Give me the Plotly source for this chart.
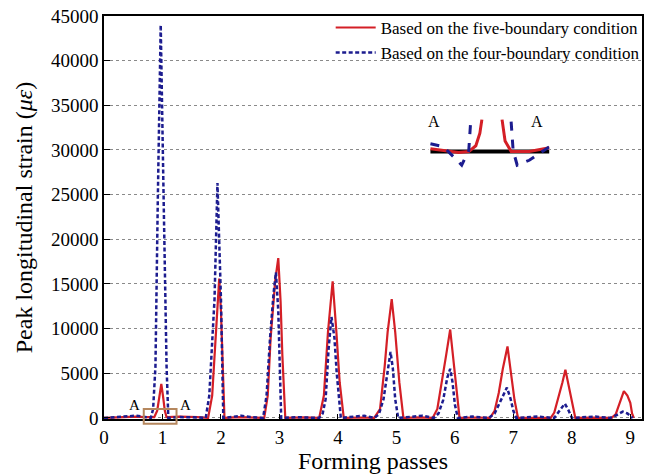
import plotly.graph_objects as go

# ---------------- data ----------------
five_x = [0, 0.3, 0.55, 0.7, 0.86, 0.91, 0.95, 0.98, 1.01, 1.04, 1.07, 1.3, 1.6,
          1.78, 1.85, 1.92, 1.97, 2.0, 2.03, 2.06,
          2.3, 2.6, 2.74, 2.8, 2.85, 2.93, 2.98, 3.02, 3.05, 3.1,
          3.4, 3.68, 3.76, 3.83, 3.91, 3.97, 4.03, 4.1,
          4.4, 4.62, 4.72, 4.8, 4.85, 4.92, 4.98, 5.05, 5.12,
          5.4, 5.62, 5.7, 5.78, 5.85, 5.92, 5.97, 6.02, 6.08,
          6.35, 6.6, 6.68, 6.75, 6.82, 6.9, 6.96, 7.02, 7.08,
          7.35, 7.64, 7.7, 7.77, 7.84, 7.89, 7.95, 8.0, 8.06,
          8.35, 8.68, 8.75, 8.82, 8.89, 8.95, 9.0, 9.03, 9.06]
five_y = [0, 50, 150, 80, 100, 800, 2400, 3800, 2400, 800, 100, 150, 100,
          0, 2500, 9600, 15600, 12000, 6000, 0,
          80, 50, 0, 2500, 9000, 15500, 17900, 13000, 7000, 0,
          60, 0, 2500, 9600, 15300, 10000, 4000, 0,
          50, 0, 1000, 5800, 9600, 13300, 9600, 4000, 0,
          60, 0, 1000, 4000, 7000, 9900, 7000, 4000, 0,
          50, 0, 800, 2800, 5500, 8000, 5000, 2000, 0,
          40, 0, 600, 2200, 4000, 5400, 3500, 1800, 0,
          40, 0, 400, 1800, 3000, 2500, 1700, 500, 0]

four_x = [0, 0.3, 0.55, 0.7, 0.8, 0.84, 0.88, 0.92, 0.97, 1.02, 1.07, 1.1, 1.3, 1.6,
          1.74, 1.8, 1.89, 1.94, 1.97, 2.0, 2.04,
          2.25, 2.35, 2.5, 2.72, 2.78, 2.84, 2.9, 2.94, 2.98, 3.03,
          3.3, 3.68, 3.74, 3.79, 3.84, 3.89, 3.94, 3.98, 4.05,
          4.3, 4.45, 4.62, 4.7, 4.78, 4.85, 4.9, 4.94, 4.98, 5.03,
          5.3, 5.45, 5.64, 5.72, 5.8, 5.87, 5.92, 5.96, 6.0, 6.05,
          6.3, 6.58, 6.68, 6.78, 6.89, 6.95, 7.0, 7.05,
          7.4, 7.7, 7.78, 7.88, 7.94, 8.0,
          8.4, 8.65, 8.76, 8.87, 8.95, 9.04]
four_y = [0, 100, 250, 100, 0, 1000, 5800, 24400, 44000, 24400, 5800, 0, 100, 50,
          0, 2500, 13300, 26300, 20000, 13300, 0,
          200, 250, 100, 0, 2500, 9000, 14000, 16300, 12000, 0,
          80, 0, 500, 2100, 7700, 11300, 9000, 5000, 0,
          150, 250, 0, 400, 2100, 5500, 7400, 5500, 2100, 0,
          150, 250, 0, 500, 2000, 4500, 5500, 4000, 1500, 0,
          150, 0, 500, 1800, 3400, 2200, 800, 0,
          150, 0, 700, 1600, 900, 0,
          150, 0, 300, 700, 500, 0]

x_ticks = [0, 1, 2, 3, 4, 5, 6, 7, 8, 9]
y_ticks = [0, 5000, 10000, 15000, 20000, 25000, 30000, 35000, 40000, 45000]

# inset (schematic zoom of region A), local coordinates
inset_base_x = [2, 120]
inset_base_y = [19, 19]
inset_red_l_x = [2, 15, 30, 40, 47, 51, 53]
inset_red_l_y = [22, 20, 18, 19, 25, 38, 52]
inset_blue_l_x = [2, 15, 33, 40, 42]
inset_blue_l_y = [27, 24, 5, 20, 52]
inset_red_r_x = [73, 76, 82, 100, 120]
inset_red_r_y = [52, 30, 19, 19, 23]
inset_blue_r_x = [82, 84, 88, 100, 120]
inset_blue_r_y = [50, 20, 5, 10, 24]

RED = "#d41f26"
BLUE = "#1c1c8f"
FONT = "Liberation Serif, Times New Roman, serif"

fig = go.Figure()
fig.add_trace(go.Scatter(x=five_x, y=five_y, mode="lines", name="Based on the five-boundary condition",
                         line=dict(color=RED, width=2.2)))
fig.add_trace(go.Scatter(x=four_x, y=four_y, mode="lines", name="Based on the four-boundary condition",
                         line=dict(color=BLUE, width=2.5, dash="4px,2.5px")))

# inset traces
fig.add_trace(go.Scatter(x=inset_base_x, y=inset_base_y, mode="lines", line=dict(color="black", width=4),
                         xaxis="x2", yaxis="y2", showlegend=False))
for xs, ys, c, d in [(inset_red_l_x, inset_red_l_y, RED, "solid"),
                     (inset_red_r_x, inset_red_r_y, RED, "solid"),
                     (inset_blue_l_x, inset_blue_l_y, BLUE, "dash"),
                     (inset_blue_r_x, inset_blue_r_y, BLUE, "dash")]:
    fig.add_trace(go.Scatter(x=xs, y=ys, mode="lines", line=dict(color=c, width=3, dash=d),
                             xaxis="x2", yaxis="y2", showlegend=False))

fig.update_layout(
    width=650, height=476,
    margin=dict(l=104, r=5, t=16, b=57),
    paper_bgcolor="white", plot_bgcolor="white",
    font=dict(family=FONT, color="black"),
    showlegend=True,
    legend=dict(x=1.005, y=1.015, xanchor="right", yanchor="top", bgcolor="rgba(0,0,0,0)",
                font=dict(family=FONT, size=17, color="black"), borderwidth=0,
                tracegroupgap=0, itemwidth=40),
    xaxis=dict(range=[0, 9.2], tickvals=x_ticks, ticktext=[str(v) for v in x_ticks],
               showgrid=False, zeroline=False, showline=True, mirror=True, linecolor="black", linewidth=1.5,
               ticks="inside", ticklen=5, tickcolor="black", tickfont=dict(family=FONT, size=19),
               title=dict(text="Forming passes", font=dict(family=FONT, size=24), standoff=6)),
    yaxis=dict(range=[-120, 45000], tickvals=y_ticks, ticktext=[str(v) for v in y_ticks],
               showgrid=True, gridcolor="#8a8a8a", griddash="dot", gridwidth=1,
               zeroline=False, showline=True, mirror=True, linecolor="black", linewidth=1.5,
               ticks="inside", ticklen=6, tickcolor="black", tickfont=dict(family=FONT, size=19),
               title=dict(text="Peak longitudinal strain (<i>με</i>)", font=dict(family=FONT, size=24), standoff=12)),
    xaxis2=dict(domain=[0.603, 0.828], range=[0, 120], visible=False, anchor="y2"),
    yaxis2=dict(domain=[0.618, 0.762], range=[0, 60], visible=False, anchor="x2"),
    shapes=[dict(type="rect", xref="x domain", yref="y domain", x0=0.0739, x1=0.1348, y0=-0.012, y1=0.025,
                 line=dict(color="#b5875e", width=2), fillcolor="rgba(0,0,0,0)", layer="above")],
    annotations=[
        dict(x=0.53, y=1400, xref="x", yref="y", text="A", showarrow=False, font=dict(family=FONT, size=15)),
        dict(x=1.39, y=1400, xref="x", yref="y", text="A", showarrow=False, font=dict(family=FONT, size=15)),
        dict(x=6, y=50, xref="x2", yref="y2", text="A", showarrow=False, font=dict(family=FONT, size=16)),
        dict(x=108, y=50, xref="x2", yref="y2", text="A", showarrow=False, font=dict(family=FONT, size=16)),
    ],
)

fig.write_html("out.html")
